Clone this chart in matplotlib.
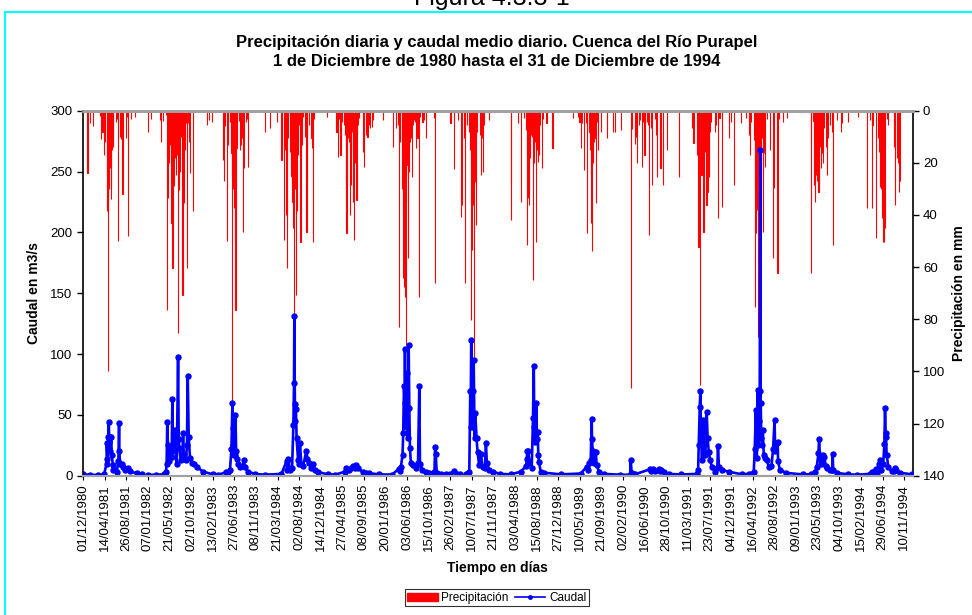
import numpy as np
import pandas as pd
import matplotlib
matplotlib.use("Agg")
import matplotlib.pyplot as plt
from matplotlib.patches import Rectangle
from matplotlib.lines import Line2D
from matplotlib.patches import Patch

plt.rcParams['font.family'] = ['Liberation Sans', 'DejaVu Sans']

# precipitacion diaria (mm), solo dias con lluvia
rain_dates = [
    "1980-12-28",
    # 1981
    "1981-01-15", "1981-02-03", "1981-03-16", "1981-03-23", "1981-03-31", "1981-04-12", "1981-04-18",
    "1981-04-27", "1981-05-01", "1981-05-03", "1981-05-07", "1981-05-10", "1981-05-13", "1981-05-17",
    "1981-05-19", "1981-05-22", "1981-05-25", "1981-05-30", "1981-06-02", "1981-06-07", "1981-06-24",
    "1981-06-28", "1981-07-08", "1981-07-18", "1981-07-24", "1981-08-02", "1981-08-25", "1981-08-31",
    "1981-09-08", "1981-09-25", "1981-10-19",
    # 1982
    "1982-01-10", "1982-01-26", "1982-03-23", "1982-03-27", "1982-04-08", "1982-04-29", "1982-05-06",
    "1982-05-10", "1982-05-16", "1982-05-20", "1982-05-24", "1982-05-28", "1982-06-02", "1982-06-05",
    "1982-06-08", "1982-06-14", "1982-06-20", "1982-06-24", "1982-06-29", "1982-07-05", "1982-07-09",
    "1982-07-13", "1982-07-19", "1982-07-25", "1982-07-29", "1982-08-02", "1982-08-05", "1982-08-09",
    "1982-08-15", "1982-08-21", "1982-08-27", "1982-08-31", "1982-09-08", "1982-09-14", "1982-09-21",
    "1982-09-27", "1982-10-16",
    # 1983
    "1983-01-11", "1983-01-23", "1983-02-09", "1983-04-18", "1983-04-22", "1983-05-02", "1983-05-15",
    "1983-05-19", "1983-05-30", "1983-06-05", "1983-06-09", "1983-06-12", "1983-06-15", "1983-06-20",
    "1983-06-24", "1983-06-27", "1983-06-30", "1983-07-04", "1983-07-07", "1983-07-10", "1983-07-16",
    "1983-07-24", "1983-08-03", "1983-08-09", "1983-08-15", "1983-08-21", "1983-08-27", "1983-09-05",
    "1983-09-15", "1983-09-21",
    # 1984
    "1984-01-05", "1984-02-05", "1984-03-20", "1984-04-14", "1984-05-02", "1984-05-07", "1984-05-11",
    "1984-05-16", "1984-05-21", "1984-05-27", "1984-06-05", "1984-06-11", "1984-06-15", "1984-06-19",
    "1984-06-22", "1984-06-25", "1984-06-30", "1984-07-05", "1984-07-08", "1984-07-12", "1984-07-18",
    "1984-07-22", "1984-07-26", "1984-08-03", "1984-08-10", "1984-08-14", "1984-08-18", "1984-08-28",
    "1984-09-06", "1984-09-12", "1984-09-16", "1984-09-22", "1984-09-30", "1984-10-17", "1984-10-23",
    "1984-10-29", "1984-11-04",
    # 1985
    "1985-01-24", "1985-03-21", "1985-03-31", "1985-04-08", "1985-04-15", "1985-04-25", "1985-05-05",
    "1985-05-14", "1985-05-18", "1985-05-22", "1985-05-28", "1985-06-03", "1985-06-08", "1985-06-12",
    "1985-06-16", "1985-06-20", "1985-06-26", "1985-06-30", "1985-07-03", "1985-07-08", "1985-07-12",
    "1985-07-17", "1985-07-23", "1985-07-29", "1985-07-31", "1985-08-10", "1985-09-03", "1985-09-09",
    "1985-09-20", "1985-09-30", "1985-10-07", "1985-10-15", "1985-10-27", "1985-11-05",
    # 1986
    "1986-01-06", "1986-03-08", "1986-03-27", "1986-04-08", "1986-04-14", "1986-04-21", "1986-05-01",
    "1986-05-04", "1986-05-07", "1986-05-10", "1986-05-14", "1986-05-18", "1986-05-21", "1986-05-24",
    "1986-05-27", "1986-05-30", "1986-06-03", "1986-06-06", "1986-06-09", "1986-06-12", "1986-06-16",
    "1986-06-20", "1986-06-24", "1986-07-04", "1986-07-11", "1986-07-17", "1986-07-23", "1986-07-29",
    "1986-08-06", "1986-08-16", "1986-08-22", "1986-09-06", "1986-09-16", "1986-09-29", "1986-11-14",
    "1986-11-23",
    # 1987
    "1987-02-26", "1987-03-22", "1987-04-14", "1987-05-04", "1987-05-10", "1987-05-19", "1987-05-29",
    "1987-06-09", "1987-06-23", "1987-06-29", "1987-07-02", "1987-07-05", "1987-07-08", "1987-07-11",
    "1987-07-15", "1987-07-18", "1987-07-20", "1987-07-23", "1987-07-26", "1987-07-30", "1987-08-02",
    "1987-08-05", "1987-08-11", "1987-08-28", "1987-09-03", "1987-09-10", "1987-09-16", "1987-09-24",
    "1987-10-21",
    # 1988
    "1988-03-06", "1988-03-10", "1988-04-20", "1988-05-11", "1988-05-29", "1988-06-07", "1988-06-13",
    "1988-06-17", "1988-06-21", "1988-06-24", "1988-06-27", "1988-07-01", "1988-07-04", "1988-07-10",
    "1988-07-17", "1988-07-24", "1988-07-27", "1988-07-30", "1988-08-06", "1988-08-09", "1988-08-12",
    "1988-08-18", "1988-08-24", "1988-08-29", "1988-09-04", "1988-09-18", "1988-09-22", "1988-10-14",
    "1988-11-20",
    # 1989
    "1989-03-29", "1989-04-28", "1989-05-06", "1989-05-14", "1989-05-21", "1989-06-04", "1989-06-16",
    "1989-06-24", "1989-07-07", "1989-07-10", "1989-07-15", "1989-07-18", "1989-07-21", "1989-07-25",
    "1989-07-28", "1989-07-31", "1989-08-03", "1989-08-07", "1989-08-13", "1989-08-19", "1989-08-25",
    "1989-08-31", "1989-09-19", "1989-10-22", "1989-12-02", "1989-12-13",
    # 1990
    "1990-01-17", "1990-03-20", "1990-03-30", "1990-04-14", "1990-04-22", "1990-04-30", "1990-05-09",
    "1990-05-19", "1990-05-29", "1990-06-04", "1990-06-13", "1990-06-19", "1990-06-27", "1990-07-05",
    "1990-07-13", "1990-07-22", "1990-07-30", "1990-08-18", "1990-08-24", "1990-09-01", "1990-09-15",
    "1990-09-21", "1990-10-07", "1990-11-01",
    # 1991
    "1991-01-16", "1991-04-05", "1991-04-13", "1991-05-06", "1991-05-14", "1991-05-20", "1991-05-26",
    "1991-05-30", "1991-06-02", "1991-06-08", "1991-06-11", "1991-06-14", "1991-06-17", "1991-06-20",
    "1991-06-26", "1991-06-29", "1991-07-03", "1991-07-06", "1991-07-09", "1991-07-12", "1991-07-15",
    "1991-07-21", "1991-07-27", "1991-08-02", "1991-08-27", "1991-09-02", "1991-09-14", "1991-09-22",
    "1991-10-09", "1991-11-22", "1991-11-30", "1991-12-22",
    # 1992
    "1992-02-04", "1992-03-06", "1992-03-21", "1992-03-31", "1992-04-06", "1992-04-23", "1992-04-27",
    "1992-04-29", "1992-05-04", "1992-05-06", "1992-05-10", "1992-05-13", "1992-05-18", "1992-05-21",
    "1992-05-24", "1992-05-27", "1992-05-30", "1992-06-03", "1992-06-06", "1992-06-12", "1992-06-18",
    "1992-06-24", "1992-06-30", "1992-07-10", "1992-08-02", "1992-08-19", "1992-08-23", "1992-09-15",
    "1992-09-27", "1992-10-19", "1992-11-14",
    # 1993
    "1993-04-10", "1993-04-12", "1993-04-26", "1993-05-02", "1993-05-08", "1993-05-14", "1993-05-20",
    "1993-05-27", "1993-06-02", "1993-06-08", "1993-06-14", "1993-06-20", "1993-06-27", "1993-07-03",
    "1993-07-12", "1993-07-18", "1993-07-24", "1993-08-07", "1993-08-21", "1993-08-27", "1993-09-17",
    "1993-10-12", "1993-10-22", "1993-11-29",
    # 1994
    "1994-01-29", "1994-03-26", "1994-04-11", "1994-04-23", "1994-04-27", "1994-05-19", "1994-05-30",
    "1994-06-05", "1994-06-11", "1994-06-19", "1994-06-27", "1994-07-04", "1994-07-10", "1994-07-16",
    "1994-07-25", "1994-08-04", "1994-09-10", "1994-09-16", "1994-09-25", "1994-10-03", "1994-10-09",
    "1994-10-15",
]
rain_mm = [
    24,
    # 1981
    4.8, 6, 2, 11, 8, 17, 12,
    38.5, 25, 38.5, 100, 30, 20, 15,
    22, 29, 34, 15, 12, 14, 4.5,
    3, 50, 10, 11, 32, 10.5, 2.3,
    48, 3, 2.3,
    # 1982
    8, 3, 3.5, 12, 4, 1.5, 76.5,
    33.5, 15.7, 20, 13, 18, 43.2, 14,
    60.5, 25.3, 29, 18, 24.7, 17, 12,
    85.4, 30.4, 23.4, 10, 1.7, 8, 70.7,
    12.5, 35.5, 15, 4.9, 60.5, 4.9, 12,
    24, 38.5,
    # 1983
    5.5, 3.6, 4.2, 19, 27, 6, 50,
    13, 4.2, 8, 16.4, 25, 111.6, 30,
    37.2, 20, 50.2, 76.5, 12, 14.4, 3,
    4, 15, 13, 10.6, 46.4, 22, 4.2,
    3, 21.5,
    # 1984
    8, 6.8, 4.2, 19, 49.6, 15, 40,
    20, 60.5, 10.6, 15.7, 22, 25, 28.5,
    35, 45, 79, 30, 25, 70.7, 38.5,
    12, 17, 5.5, 50.2, 8, 13, 2.3,
    10, 8, 46.4, 26.5, 5.5, 10.6, 14.4,
    50.2, 3,
    # 1985
    2.3, 8, 17.6, 3, 17, 4.2, 5.5,
    9.3, 27.2, 47, 8, 10.6, 12, 39.9,
    15, 28.5, 8, 35, 18, 49.6, 20,
    10.6, 34.3, 9.3, 5.5, 2.9, 15.7, 21.5,
    9.3, 10, 5.5, 6.8, 6.1, 3.6,
    # 1986
    3.6, 13.8, 6.8, 5.5, 82.8, 11.9, 13.1,
    30, 64.3, 40, 67.5, 71.4, 45, 90,
    35, 20.8, 20, 56.6, 24.7, 15, 23.4,
    12, 10.6, 25.3, 5.5, 3.6, 4.2, 14.4,
    10.6, 71.4, 2.3, 4.2, 3.6, 10.6, 2.9,
    66.2,
    # 1987
    4.9, 22.2, 3.6, 40.6, 36.2, 10.6, 66.2,
    5.5, 8, 15, 20, 80.3, 25, 53.4,
    36.2, 22, 29.8, 96, 18, 27.2, 12,
    43.8, 8, 9.3, 24.7, 10.6, 23.4, 5.5,
    3.6,
    # 1988
    28.2, 41.9, 4.9, 34.9, 2.9, 7.4, 18.3,
    51.5, 33.6, 20, 36.2, 18, 14.4, 9.3,
    10, 64.9, 20, 5.5, 11.9, 14, 50.2,
    15, 19.5, 17, 5.5, 22, 3, 4.9,
    14.4,
    # 1989
    2.9, 2.3, 4.2, 14.4, 4.9, 22.8, 4.9,
    47, 8, 15, 43.2, 25, 20.2, 54,
    20, 15.7, 12, 10.6, 9.3, 35.5, 4.2,
    15, 8, 10.6, 8, 8,
    # 1990
    7.4, 106.5, 7, 12.6, 10, 20.2, 5.5,
    3.6, 21.5, 4.2, 17, 5.5, 4.2, 5.5,
    47.7, 6.8, 28.5, 3, 9.3, 25.3, 3,
    22, 28.5, 15,
    # 1991
    25.3, 6.8, 12.5, 17, 52.2, 5.5, 105.2,
    18, 24.7, 14.4, 20, 46.4, 25, 11.9,
    15.7, 18, 36.2, 20, 31, 15, 23.4,
    25.3, 8, 4.2, 8, 5.5, 41.3, 2.9,
    36.8, 10.6, 4.2, 28.5,
    # 1992
    4.9, 2.9, 9.3, 17, 4.2, 11.3, 75.2,
    30, 47, 25, 8, 38, 86.7, 40,
    53.4, 30, 15, 28, 23.4, 10.6, 46.4,
    16.4, 21.5, 3, 15, 56.6, 29.8, 62.4,
    3, 4.2, 2.9,
    # 1993
    12.5, 62.4, 4, 28.5, 34.9, 24.7, 27,
    31, 28, 13.8, 22, 16.4, 20.2, 6.8,
    13.8, 24.7, 10.6, 5.5, 8, 51.5, 3.6,
    8, 4.9, 4.2,
    # 1994
    2.3, 37.4, 3.6, 37.4, 5.5, 48.8, 10.6,
    16, 29.3, 30, 41, 50.2, 50.4, 45,
    3, 5.5, 13.8, 36.2, 18.3, 20, 31,
    27,
]

# caudal medio diario (m3/s); None = sin dato
flow_dates = [
    "1980-12-01", "1981-01-15", "1981-03-01", "1981-04-10", "1981-04-26", "1981-04-27", "1981-05-01",
    "1981-05-05", "1981-05-09", "1981-05-13", "1981-05-17", "1981-05-19", "1981-05-24", "1981-05-28",
    "1981-06-03", "1981-06-07", "1981-06-28", "1981-07-08", "1981-07-12", "1981-07-14", "1981-07-18",
    "1981-07-29", "1981-08-04", "1981-08-19", "1981-09-08", "1981-09-18", "1981-10-30", "1981-12-01",
    "1981-12-20", "1982-01-10",
    "1982-03-01", "1982-04-15", "1982-04-29", "1982-05-03", "1982-05-07", "1982-05-11", "1982-05-18",
    "1982-05-28", "1982-06-03", "1982-06-08", "1982-06-12", "1982-06-19", "1982-06-25", "1982-07-01",
    "1982-07-05", "1982-07-13", "1982-07-17", "1982-07-21", "1982-07-30", "1982-08-09", "1982-08-13",
    "1982-08-17", "1982-08-21", "1982-08-31", "1982-09-06", "1982-09-11", "1982-09-17", "1982-09-25",
    "1982-10-08", "1982-10-22", "1982-11-06", "1982-12-17", "1983-02-15", "1983-03-20",
    "1983-05-09", "1983-05-19", "1983-05-31", "1983-06-09", "1983-06-15", "1983-06-19", "1983-06-21",
    "1983-06-25", "1983-06-30", "1983-07-04", "1983-07-08", "1983-07-16", "1983-07-22", "1983-08-03",
    "1983-08-18", "1983-08-24", "1983-08-30", "1983-09-19", "1983-10-31", "1984-01-01",
    "1984-04-14", "1984-05-16", "1984-05-21", "1984-05-27", "1984-06-05", "1984-06-19", "1984-06-27",
    "1984-07-01", "1984-07-03", "1984-07-07", "1984-07-09", "1984-07-13", "1984-07-17", "1984-07-26",
    "1984-08-01", "1984-08-07", "1984-08-15", "1984-08-26", "1984-09-16", "1984-09-22", "1984-10-03",
    "1984-10-17", "1984-10-29", "1984-11-06", "1984-11-27", "1985-01-28",
    "1985-03-15", "1985-05-12", "1985-05-22", "1985-06-08", "1985-06-22", "1985-07-03", "1985-07-13",
    "1985-07-23", "1985-07-31", "1985-09-01", "1985-09-20", "1985-10-11", "1985-12-13",
    "1986-03-01", "1986-04-10", "1986-04-21", "1986-04-25", "1986-05-05", "1986-05-09", "1986-05-14",
    "1986-05-18", "1986-05-20", "1986-05-24", "1986-05-26", "1986-05-30", "1986-06-06", "1986-06-12",
    "1986-06-16", "1986-06-20", "1986-06-26", "1986-07-11", "1986-07-27", "1986-08-09", "1986-08-17",
    "1986-08-21", "1986-09-03", "1986-09-28", "1986-10-19", "1986-11-19", "1986-11-23", "1986-11-27",
    "1986-12-03", "1987-01-01",
    "1987-01-15", "1987-02-01", "1987-02-21", "1987-03-22", "1987-04-05", "1987-04-25", "1987-05-10",
    "1987-06-01", "1987-06-12", "1987-06-23", "1987-06-29", "1987-07-01", "1987-07-05", "1987-07-09",
    "1987-07-13", "1987-07-17", "1987-07-20", "1987-07-26", "1987-07-30", "1987-08-07", "1987-08-13",
    "1987-08-23", "1987-09-03", "1987-09-13", "1987-09-28", "1987-10-04", "1987-10-10", "1987-10-25",
    "1987-11-15", "1987-12-31",
    "1988-03-06", "1988-05-07", "1988-06-10", "1988-06-13", "1988-06-17", "1988-06-23", "1988-06-30",
    "1988-07-14", "1988-07-22", "1988-07-27", "1988-07-30", "1988-08-01", "1988-08-06", "1988-08-12",
    "1988-08-16", "1988-08-20", "1988-08-24", "1988-08-28", "1988-09-08", "1988-09-15", "1988-09-28",
    "1989-01-10",
    "1989-05-14", "1989-06-20", "1989-06-28", "1989-07-07", "1989-07-15", "1989-07-21", "1989-07-23",
    "1989-07-27", "1989-08-04", "1989-08-15", "1989-08-21", "1989-09-04", "1989-10-05", "1990-01-15",
    "1990-03-16", "1990-03-20", "1990-03-26", "1990-04-17", "1990-07-20", "1990-07-26", "1990-08-04",
    "1990-08-20", "1990-09-10", "1990-09-18", "1990-09-26", "1990-10-11", "1990-11-11", "1991-01-28",
    "1991-05-06", "1991-05-12", "1991-05-16", "1991-05-22", "1991-05-26", "1991-05-30", "1991-06-05",
    "1991-06-10", "1991-06-12", "1991-06-18", "1991-06-26", "1991-07-04", "1991-07-10", "1991-07-17",
    "1991-07-25", "1991-08-06", "1991-08-23", "1991-09-08", "1991-09-12", "1991-09-18", "1991-10-07",
    "1991-11-18", "1992-02-08",
    "1992-03-21", "1992-04-21", "1992-04-27", "1992-05-04", "1992-05-10", "1992-05-16", "1992-05-20",
    "1992-05-24", "1992-05-28", "1992-06-01", "1992-06-03", "1992-06-07", "1992-06-12", "1992-06-16",
    "1992-06-22", "1992-07-02", "1992-07-11", "1992-07-23", "1992-08-09", "1992-08-19", "1992-08-28",
    "1992-09-01", "1992-09-10", "1992-09-16", "1992-09-19", "1992-09-30", "1992-11-10", "1993-02-22",
    "1993-04-10", "1993-05-06", "1993-05-17", "1993-05-27", "1993-05-31", "1993-06-06", "1993-06-13",
    "1993-06-17", "1993-06-27", "1993-07-03", "1993-07-12", "1993-07-18", "1993-08-07", "1993-08-21",
    "1993-08-23", "1993-08-27", "1993-09-17", "1993-11-29", "1994-01-19",
    "1994-04-11", "1994-04-22", "1994-05-19", "1994-05-27", "1994-06-09", "1994-06-13", "1994-06-19",
    "1994-07-03", "1994-07-10", "1994-07-14", "1994-07-18", "1994-07-20", "1994-07-24", "1994-08-04",
    "1994-08-25", "1994-09-10", "1994-09-14", "1994-09-18", "1994-10-15", "1994-12-31",
]
flow_q = [
    1.0, 0.8, 0.6, 1.0, 10, 26.6, 14,
    31.6, 43.9, 28, 31.6, 20, 32, 17,
    8.8, 4.7, 3.3, 12, 43.4, 20.6, 10,
    10, 7, 5, 6, 3.5, 2, 1.0,
    None, 0.8,
    0.7, 1.2, 3, 10, 44.5, 25, 12,
    21.6, 15, 63.1, 20, 30, 37.6, 27.9,
    10, 97.4, 30, 22.4, 12.9, 15, 35.5,
    18, 15.4, 12.9, 25, 82, 31.6, 14.2,
    10.1, 9.4, 7, 3.3, 1.0, 0.8,
    3, 3.3, 5, 22, 60, 25, 39,
    17, 17, 50, 20, 14, 10, 7.4,
    8, 12.6, 7, 3.3, 1.5, 0.8,
    1.5, 12, 5, 13.4, 4.7, 6, 41.7,
    76.1, 131, 45, 59, 55, 30.7, 12.9,
    10, 26.6, 10, 8, 20.6, 13.5, 10.1,
    6, 9.5, 4.7, 3, 1.1,
    0.9, 3.3, 6, 4.5, 6, 8, 6.5,
    8.5, 6, 3.3, 2.5, 2, 1.1,
    0.9, 5.4, 3.5, 7.4, 17, 34.7, 73.5,
    60, 104.5, 40, 55, 84.5, 30.7, 107.7,
    55.8, 22.4, 10.1, 8.8, 6.5, 10.1, 74,
    10, 4.7, 3.3, 2, 3, 23.9, 18,
    2, 1.0,
    None, 1.0, 1.5, 3.5, 1.5, 1.2, None,
    1.2, 2, 3.3, 69.5, 40, 111.8, 50,
    69.5, 40, 95, 30.7, 51.5, 30.7, 19.7,
    8.8, 17.7, 7.4, 6, 27, 10.1, 4.7,
    3.3, 1.5,
    1.1, 3.3, 8, 14, 19.9, 19.9, 10.1,
    6, 47.2, 89.8, 40, 30.7, 28, 59.9,
    30, 36.3, 17, 11.5, 3.3, None, 2.5,
    1.1,
    1.8, 7.4, 4.7, 10.1, 12.9, 46.5, 30,
    20.6, 10.1, 19.7, 8.8, 3.3, 1.5, 0.8,
    0.8, 12.6, 2, 1.2, 5.4, 3.5, 5.2,
    3.5, 5.2, 4, 5, 3, 1.5, 1.0,
    1.5, 5, 25.2, 56.7, 69.9, 30.7, 12.9,
    30, 46, 19.7, 17, 52.5, 30.7, 19.7,
    12.9, 7.4, 3.3, 6, 24.5, 7.4, 4.7,
    3.3, 1.1,
    1.5, 3.3, 21.6, 53.8, 14.2, 70.8, 25,
    45, 70, 268, 60, 30.7, 25, 37.6,
    17, 14.2, 12.9, 7.4, 8, 22, 45.8,
    20, 26.6, 28, 12, 4.7, 2.3, 1.0,
    1.2, 3.3, 7.4, 18.4, 29.9, 14, 10,
    12, 16.8, 15, 8, 6, 4.7, 5,
    17.8, 5, 2.3, 1.1, 0.8,
    1.5, 3, 5.9, 2.5, 10, 12.6, 5,
    10, 26, 55.9, 35, 32, 17, 7,
    3.5, 4, 6, 4.7, 2.5, 1.0,
]

tick_labels = [
    "01/12/1980", "14/04/1981", "26/08/1981", "07/01/1982", "21/05/1982", "02/10/1982", "13/02/1983",
    "27/06/1983", "08/11/1983", "21/03/1984", "02/08/1984", "14/12/1984", "27/04/1985", "08/09/1985",
    "20/01/1986", "03/06/1986", "15/10/1986", "26/02/1987", "10/07/1987", "21/11/1987", "03/04/1988",
    "15/08/1988", "27/12/1988", "10/05/1989", "21/09/1989", "02/02/1990", "16/06/1990", "28/10/1990",
    "11/03/1991", "23/07/1991", "04/12/1991", "16/04/1992", "28/08/1992", "09/01/1993", "23/05/1993",
    "04/10/1993", "15/02/1994", "29/06/1994", "10/11/1994",
]

rd = pd.to_datetime(rain_dates)
fd = pd.to_datetime(flow_dates)
fq = np.array([np.nan if v is None else v for v in flow_q], dtype=float)
ticks = pd.to_datetime(tick_labels, format="%d/%m/%Y")

fig = plt.figure(figsize=(9.72, 6.15), dpi=100)
ax = fig.add_axes([0.0854, 0.2265, 0.8534, 0.5935])
ax2 = ax.twinx()

ax2.bar(rd, rain_mm, width=1.0, color="#ff0000", edgecolor="#ff0000", linewidth=0.8)
ax2.set_ylim(140, 0)
ax2.set_yticks(np.arange(0, 141, 20))

ax.set_zorder(ax2.get_zorder() + 1)
ax.patch.set_visible(False)
ax.plot(fd, fq, color="#0000ff", lw=1.9, marker="o", ms=3.6)
ax.set_ylim(0, 300)
ax.set_yticks(np.arange(0, 301, 50))
ax.set_xlim(pd.Timestamp("1980-11-30 12:00"), pd.Timestamp("1994-12-31 12:00"))
ax.set_xticks(ticks)
ax.set_xticklabels(tick_labels, rotation=90)

for a in (ax, ax2):
    a.spines["top"].set_color("#a0a0a0")
    a.spines["top"].set_linewidth(2)
    a.spines["bottom"].set_color("#a0a0a0")
    a.spines["bottom"].set_linewidth(1.5)
ax.spines["right"].set_visible(False)
ax2.spines["left"].set_visible(False)
ax2.spines["right"].set_linewidth(1.2)
ax.spines["left"].set_linewidth(1.2)

ax.tick_params(axis="y", labelsize=9.5, length=4, width=1, direction="out")
ax2.tick_params(axis="y", labelsize=9.5, length=4, width=1, direction="out")
ax.tick_params(axis="x", labelsize=9.5, length=3, width=0.8, pad=3)

ax.set_ylabel("Caudal en m3/s", fontsize=10, fontweight="bold")
ax.yaxis.set_label_coords(-0.0506, 0.5)
ax2.set_ylabel("Precipitación en mm", fontsize=10, fontweight="bold", rotation=90)
ax2.yaxis.set_label_coords(1.0476, 0.5)
ax.set_xlabel("Tiempo en días", fontsize=10, fontweight="bold")
ax.xaxis.set_label_coords(0.5, -0.2337)

fig.text(0.511, 1 - 42 / 615, "Precipitación diaria y caudal medio diario. Cuenca del Río Purapel",
         ha="center", va="center", fontsize=12, fontweight="bold")
fig.text(0.511, 1 - 62 / 615, "1 de Diciembre de 1980 hasta el 31 de Diciembre de 1994",
         ha="center", va="center", fontsize=12, fontweight="bold")
fig.text(0.506, 1 - 5 / 615, "Figura 4.3.3-1", ha="center", va="baseline", fontsize=18)

fig.patches.append(Rectangle((5 / 972, -0.02), 1.0, 1.02 - 12.5 / 615, transform=fig.transFigure,
                             fill=False, edgecolor="#00ffff", linewidth=1.5))

handles = [Patch(facecolor="#ff0000", edgecolor="#ff0000"),
           Line2D([], [], color="#0000ff", lw=1.2, marker="o", ms=2.5)]
leg = fig.legend(handles, ["Precipitación", "Caudal"], loc="center", bbox_to_anchor=(0.511, 0.028),
                 ncol=2, fontsize=8.5, frameon=True, fancybox=False, edgecolor="black",
                 borderpad=0.2, handlelength=2.6, handletextpad=0.3, columnspacing=0.5)
leg.get_frame().set_linewidth(0.8)

fig.savefig("out.png", dpi=100)
